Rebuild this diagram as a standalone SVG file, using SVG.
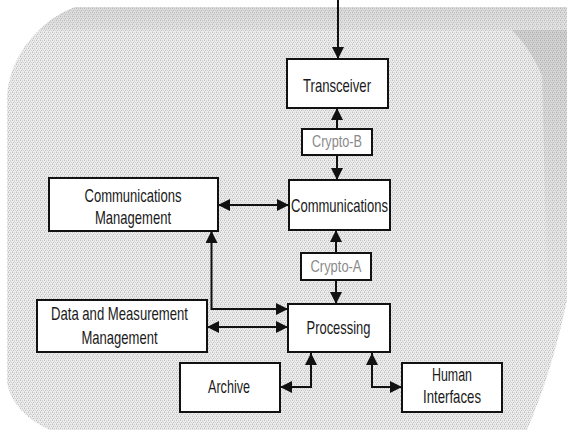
<svg xmlns="http://www.w3.org/2000/svg" width="567" height="434" viewBox="0 0 567 434">
<style>
.box{fill:#fff;stroke:#111;stroke-width:2}
.t{font-family:"Liberation Sans",Arial,sans-serif;font-size:19px;fill:#1a1a1a;text-anchor:middle}
.c{font-family:"Liberation Sans",Arial,sans-serif;font-size:16.5px;fill:#8a8a8a;text-anchor:middle}
.ln{fill:none;stroke:#111;stroke-width:2}
.a1{marker-end:url(#ah)}
.a2{marker-start:url(#ahs);marker-end:url(#ah)}
</style>
<defs>
<pattern id="dots" width="4" height="4" patternUnits="userSpaceOnUse">
<rect width="4" height="4" fill="#ececec"/>
<rect x="0" y="0" width="1" height="1" fill="#bdbdbd"/>
<rect x="2" y="0" width="1" height="1" fill="#d2d2d2"/>
<rect x="1" y="2" width="1" height="1" fill="#bdbdbd"/>
<rect x="3" y="2" width="1" height="1" fill="#d2d2d2"/>
<rect x="2" y="1" width="1" height="1" fill="#dadada"/>
<rect x="0" y="3" width="1" height="1" fill="#dadada"/>
</pattern>
<linearGradient id="topband" x1="0" y1="0" x2="0" y2="1">
<stop offset="0" stop-color="#888" stop-opacity="0.16"/>
<stop offset="1" stop-color="#888" stop-opacity="0.08"/>
</linearGradient>
<linearGradient id="rshade" x1="0" y1="0" x2="0" y2="1">
<stop offset="0" stop-color="#666" stop-opacity="0.2"/>
<stop offset="0.5" stop-color="#777" stop-opacity="0.1"/>
<stop offset="1" stop-color="#999" stop-opacity="0"/>
</linearGradient>
<linearGradient id="rshadeh" x1="0" y1="0" x2="1" y2="0">
<stop offset="0" stop-color="#fff" stop-opacity="0"/>
<stop offset="1" stop-color="#fff" stop-opacity="0.4"/>
</linearGradient>
<clipPath id="bgclip">
<path d="M75 7 L567 7 L567 300 Q552 372 527 430 L50 430 Q14 414 7 383 L7 95 C10 55 40 20 75 7 Z"/>
</clipPath>
<marker id="ah" markerUnits="userSpaceOnUse" markerWidth="14" markerHeight="12" refX="12" refY="6" orient="auto">
<path d="M0 0 L12 6 L0 12 Z" fill="#111"/>
</marker>
<marker id="ahs" markerUnits="userSpaceOnUse" markerWidth="14" markerHeight="12" refX="12" refY="6" orient="auto-start-reverse">
<path d="M0 0 L12 6 L0 12 Z" fill="#111"/>
</marker>
</defs>
<g id="background">
<path d="M75 7 L567 7 L567 300 Q552 372 527 430 L50 430 Q14 414 7 383 L7 95 C10 55 40 20 75 7 Z" fill="url(#dots)"/>
<g clip-path="url(#bgclip)">
<rect x="0" y="7" width="567" height="23" fill="url(#topband)"/>
<path d="M512 30 Q530 48 542 75 L548 320 L567 320 L567 30 Z" fill="url(#rshade)"/>
</g>
</g>
<g id="connectors">
<path class="ln a1" d="M338 0 L338 59"/>
<path class="ln a1" d="M337 129 L337 108"/>
<path class="ln a1" d="M337 155 L337 180"/>
<path class="ln a2" d="M218 205 L289 205"/>
<path class="ln a1" d="M336 253 L336 230"/>
<path class="ln a1" d="M336 280 L336 304"/>
<path class="ln a2" d="M288 309 L211.5 309 L211.5 231"/>
<path class="ln a2" d="M207 327 L288 327"/>
<path class="ln a2" d="M311 353 L311 387 L280 387"/>
<path class="ln a2" d="M372 353 L372 387 L402 387"/>
</g>
<g id="transceiver">
<rect class="box" x="287" y="59" width="101" height="49"/>
<text class="t" x="337" y="92" textLength="68" lengthAdjust="spacingAndGlyphs">Transceiver</text>
</g>
<g id="crypto-b">
<rect class="box" x="302" y="129" width="70" height="26"/>
<text class="c" x="337" y="147" textLength="50" lengthAdjust="spacingAndGlyphs">Crypto-B</text>
</g>
<g id="communications">
<rect class="box" x="289" y="180" width="101" height="50"/>
<text class="t" x="339.5" y="211.5" textLength="97" lengthAdjust="spacingAndGlyphs">Communications</text>
</g>
<g id="comm-management">
<rect class="box" x="49" y="178" width="169" height="53"/>
<text class="t" x="133" y="202" textLength="97" lengthAdjust="spacingAndGlyphs">Communications</text>
<text class="t" x="133" y="224" textLength="76" lengthAdjust="spacingAndGlyphs">Management</text>
</g>
<g id="crypto-a">
<rect class="box" x="301" y="253" width="70" height="27"/>
<text class="c" x="336" y="272" textLength="51" lengthAdjust="spacingAndGlyphs">Crypto-A</text>
</g>
<g id="processing">
<rect class="box" x="288" y="304" width="102" height="48"/>
<text class="t" x="338.5" y="333.5" textLength="64" lengthAdjust="spacingAndGlyphs">Processing</text>
</g>
<g id="data-measurement">
<rect class="box" x="37" y="300" width="170" height="52"/>
<text class="t" x="119.5" y="320" textLength="137" lengthAdjust="spacingAndGlyphs">Data and Measurement</text>
<text class="t" x="119.5" y="344" textLength="76" lengthAdjust="spacingAndGlyphs">Management</text>
</g>
<g id="archive">
<rect class="box" x="180" y="363" width="100" height="49"/>
<text class="t" x="229" y="393" textLength="42" lengthAdjust="spacingAndGlyphs">Archive</text>
</g>
<g id="human-interfaces">
<rect class="box" x="402" y="363" width="100" height="49"/>
<text class="t" x="452" y="380.5" textLength="40" lengthAdjust="spacingAndGlyphs">Human</text>
<text class="t" x="452" y="403" textLength="58" lengthAdjust="spacingAndGlyphs">Interfaces</text>
</g>
</svg>
